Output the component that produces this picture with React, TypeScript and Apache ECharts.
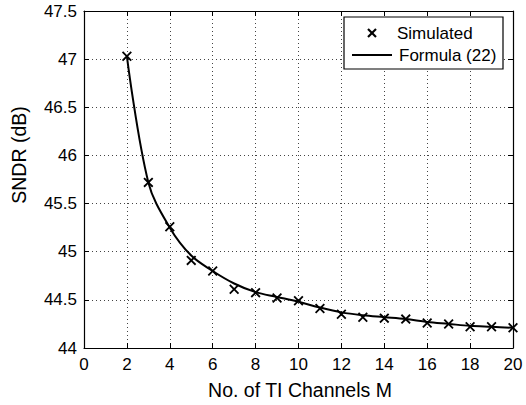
import React, { useEffect, useRef } from "react";
import * as echarts from "echarts";

const channels = [2, 3, 4, 5, 6, 7, 8, 9, 10, 11, 12, 13, 14, 15, 16, 17, 18, 19, 20];
const simulated = [47.03, 45.72, 45.26, 44.91, 44.8, 44.61, 44.575, 44.52, 44.49, 44.41, 44.35, 44.32, 44.31, 44.3, 44.26, 44.25, 44.22, 44.22, 44.21];
const formula = [47.03, 45.72, 45.25, 44.96, 44.8, 44.67, 44.58, 44.53, 44.48, 44.42, 44.37, 44.34, 44.32, 44.3, 44.27, 44.25, 44.23, 44.22, 44.21];

const xTicks = [0, 2, 4, 6, 8, 10, 12, 14, 16, 18, 20];
const yTicks = [44, 44.5, 45, 45.5, 46, 46.5, 47, 47.5];

const FONT = "'Liberation Sans', Arial, Helvetica, sans-serif";
const X_SYMBOL =
  "path://M0,13L13,0L50,37L87,0L100,13L63,50L100,87L87,100L50,63L13,100L0,87L37,50Z";

export default function App() {
  const ref = useRef<HTMLDivElement>(null);
  useEffect(() => {
    if (!ref.current) return;
    const chart = echarts.init(ref.current, undefined, { renderer: "svg" });
    const gridLine = { show: true, lineStyle: { color: "#444", width: 1, type: [1, 3] as any } };
    const axisLine = { show: true, onZero: false, lineStyle: { color: "#000", width: 1.2 } };
    const tick = { show: true, inside: true, length: 5, lineStyle: { color: "#000", width: 1 } };
    chart.setOption({
      animation: false,
      backgroundColor: "#fff",
      grid: { left: 84, right: 13, top: 11, bottom: 57, containLabel: false },
      xAxis: [
        {
          type: "value",
          min: xTicks[0],
          max: xTicks[xTicks.length - 1],
          interval: 2,
          axisLine,
          axisTick: tick,
          splitLine: gridLine,
          axisLabel: { color: "#000", fontSize: 17, fontFamily: FONT, margin: 8 },
        },
        {
          type: "value",
          position: "top",
          min: xTicks[0],
          max: xTicks[xTicks.length - 1],
          interval: 2,
          axisLine,
          axisTick: tick,
          splitLine: { show: false },
          axisLabel: { show: false },
        },
      ],
      yAxis: [
        {
          type: "value",
          min: yTicks[0],
          max: yTicks[yTicks.length - 1],
          interval: 0.5,
          axisLine,
          axisTick: tick,
          splitLine: gridLine,
          axisLabel: { color: "#000", fontSize: 17, fontFamily: FONT, margin: 7 },
        },
        {
          type: "value",
          position: "right",
          min: yTicks[0],
          max: yTicks[yTicks.length - 1],
          interval: 0.5,
          axisLine,
          axisTick: tick,
          splitLine: { show: false },
          axisLabel: { show: false },
        },
      ],
      series: [
        {
          type: "line",
          name: "Formula (22)",
          data: channels.map((m, i) => [m, formula[i]]),
          smooth: 0.35,
          showSymbol: false,
          lineStyle: { color: "#000", width: 2 },
          z: 3,
        },
        {
          type: "scatter",
          name: "Simulated",
          data: channels.map((m, i) => [m, simulated[i]]),
          symbol: X_SYMBOL,
          symbolSize: 10,
          itemStyle: { color: "#000", opacity: 1 },
          z: 4,
        },
      ],
      graphic: [
        {
          type: "rect",
          shape: { x: 344, y: 17, width: 159, height: 52 },
          style: { fill: "#fff", stroke: "#000", lineWidth: 1.2 },
          z: 10,
        },
        {
          type: "line",
          shape: { x1: 368, y1: 29, x2: 376, y2: 37 },
          style: { stroke: "#000", lineWidth: 2.2 },
          z: 11,
        },
        {
          type: "line",
          shape: { x1: 376, y1: 29, x2: 368, y2: 37 },
          style: { stroke: "#000", lineWidth: 2.2 },
          z: 11,
        },
        {
          type: "text",
          x: 397,
          y: 33,
          style: { text: "Simulated", fill: "#000", fontSize: 17, fontFamily: FONT, verticalAlign: "middle", align: "left" },
          z: 11,
        },
        {
          type: "line",
          shape: { x1: 352, y1: 55, x2: 392, y2: 55 },
          style: { stroke: "#000", lineWidth: 2 },
          z: 11,
        },
        {
          type: "text",
          x: 399,
          y: 55,
          style: { text: "Formula (22)", fill: "#000", fontSize: 17, fontFamily: FONT, verticalAlign: "middle", align: "left" },
          z: 11,
        },
        {
          type: "text",
          x: 300,
          y: 390,
          style: { text: "No. of TI Channels M", fill: "#000", fontSize: 19.5, fontFamily: FONT, verticalAlign: "middle", align: "center" },
        },
        {
          type: "text",
          x: 19,
          y: 155,
          rotation: Math.PI / 2,
          style: { text: "SNDR (dB)", fill: "#000", fontSize: 19.5, fontFamily: FONT, verticalAlign: "middle", align: "center" },
        },
      ],
    });
    return () => chart.dispose();
  }, []);
  return <div ref={ref} style={{ width: 526, height: 405, position: "absolute", left: 0, top: 0 }} />;
}
